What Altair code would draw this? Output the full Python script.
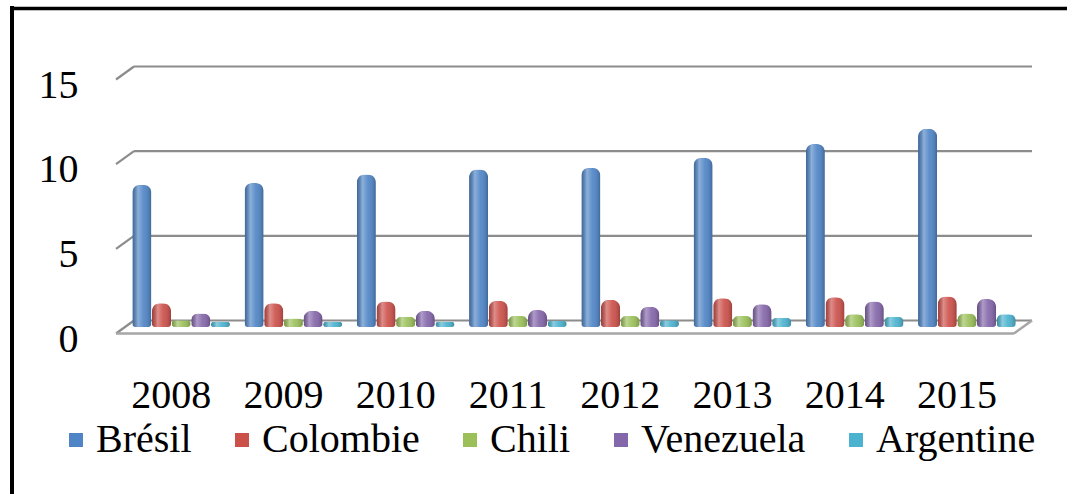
import altair as alt
import pandas as pd

# Values per year, by country
years = ["2008", "2009", "2010", "2011", "2012", "2013", "2014", "2015"]
countries = ["Brésil", "Colombie", "Chili", "Venezuela", "Argentine"]
bresil = [8.4, 8.5, 9.0, 9.3, 9.4, 10.0, 10.8, 11.7]
colombie = [1.4, 1.4, 1.5, 1.55, 1.6, 1.7, 1.75, 1.8]
chili = [0.4, 0.5, 0.6, 0.65, 0.65, 0.65, 0.75, 0.8]
venezuela = [0.8, 0.95, 0.95, 1.0, 1.2, 1.35, 1.5, 1.65]
argentine = [0.3, 0.3, 0.3, 0.35, 0.4, 0.55, 0.6, 0.75]
colors = ["#4F85C6", "#CC504A", "#9BC05A", "#8466AA", "#4BB2CF"]
grid_values = [0, 5, 10, 15]

series = [bresil, colombie, chili, venezuela, argentine]
rows = []
for country, vals in zip(countries, series):
    for year, v in zip(years, vals):
        rows.append({"annee": year, "pays": country, "valeur": v})
df = pd.DataFrame(rows)
grid = pd.DataFrame({"v": grid_values})

W, H = 898, 254
DX, DY = 9, 6.5          # depth shift of the back wall / front edge
FONT = "Liberation Serif"
GRID = "#8c8c8c"

yscale = alt.Scale(domain=[0, 15], nice=False, zero=True)
xscale = alt.Scale(domain=years, paddingInner=0.13, paddingOuter=0.065)

yaxis = alt.Axis(values=grid_values, labelFont=FONT, labelFontSize=40, labelColor="black",
                 labelPadding=47, labelOffset=12, labelBaseline="middle",
                 ticks=False, domain=False, grid=False, title=None)
xaxis = alt.Axis(labelFont=FONT, labelFontSize=40, labelColor="black", labelAngle=0,
                 labelPadding=68, labelBaseline="middle", labelOffset=-10,
                 ticks=False, domain=False, grid=False, title=None)

# back wall gridlines (this layer carries the value axis)
back = alt.Chart(grid).mark_rule(color=GRID, strokeWidth=2.2, yOffset=-DY).encode(
    y=alt.Y("v:Q", scale=yscale, axis=yaxis, title=None),
    x=alt.value(DX), x2=alt.value(W + DX),
)
# slanted stubs on the left side wall
stubs = alt.Chart(grid).mark_rule(color=GRID, strokeWidth=2.2, yOffset=DY, y2Offset=-DY).encode(
    y=alt.Y("v:Q", scale=yscale, title=None), y2=alt.Y2("v:Q"),
    x=alt.value(-DX), x2=alt.value(DX),
)
floor_front = alt.Chart(grid).transform_filter("datum.v == 0").mark_rule(
    color="#a6a6a6", strokeWidth=2.5, yOffset=DY
).encode(
    y=alt.Y("v:Q", scale=yscale, title=None),
    x=alt.value(-DX), x2=alt.value(W - DX),
)
floor_right = alt.Chart(grid).transform_filter("datum.v == 0").mark_rule(
    color="#a6a6a6", strokeWidth=2.5, yOffset=DY, y2Offset=-DY
).encode(
    y=alt.Y("v:Q", scale=yscale, title=None), y2=alt.Y2("v:Q"),
    x=alt.value(W - DX), x2=alt.value(W + DX),
)

xoff = alt.XOffset("pays:N", sort=countries, scale=alt.Scale(paddingInner=0.03, paddingOuter=0))

bars = alt.Chart(df).mark_bar(cornerRadiusTopLeft=8, cornerRadiusTopRight=8,
                              cornerRadiusBottomLeft=3, cornerRadiusBottomRight=3).encode(
    x=alt.X("annee:N", scale=xscale, sort=years, axis=xaxis, title=None),
    xOffset=xoff,
    y=alt.Y("valeur:Q", scale=yscale, title=None),
    color=alt.Color(
        "pays:N", sort=countries, scale=alt.Scale(domain=countries, range=colors),
        legend=alt.Legend(
            title=None, orient="none", legendX=-81, legendY=347, direction="horizontal",
            symbolType="square", symbolSize=196, symbolStrokeWidth=0, symbolOffset=12,
            labelFont=FONT, labelFontSize=40, labelColor="black", labelOffset=0,
            labelLimit=0, columnPadding=18,
        ),
    ),
)

# cylinder shading laid over every bar
shade = alt.Gradient(
    gradient="linear", x1=0, x2=1, y1=0, y2=0,
    stops=[
        alt.GradientStop(color="rgba(0,0,0,0.22)", offset=0),
        alt.GradientStop(color="rgba(255,255,255,0.35)", offset=0.3),
        alt.GradientStop(color="rgba(255,255,255,0.08)", offset=0.6),
        alt.GradientStop(color="rgba(0,0,0,0.22)", offset=1),
    ],
)
gloss = alt.Chart(df).mark_bar(color=shade, cornerRadiusTopLeft=8, cornerRadiusTopRight=8,
                               cornerRadiusBottomLeft=3, cornerRadiusBottomRight=3).encode(
    x=alt.X("annee:N", scale=xscale, sort=years, title=None),
    xOffset=xoff,
    y=alt.Y("valeur:Q", scale=yscale, title=None),
)

# page frame (left and top edges)
frame_left = alt.Chart(grid).transform_filter("datum.v == 0").mark_rule(color="black", strokeWidth=4).encode(
    x=alt.value(-113), y=alt.value(-67), y2=alt.value(430),
)
frame_top = alt.Chart(grid).transform_filter("datum.v == 0").mark_rule(color="black", strokeWidth=3.5).encode(
    x=alt.value(-115), x2=alt.value(942), y=alt.value(-64.5),
)

chart = alt.layer(
    back, stubs, floor_front, floor_right, bars, gloss, frame_left, frame_top
).properties(
    width=W, height=H,
    autosize=alt.AutoSizeParams(type="none"),
    padding={"left": 125, "top": 73, "right": 1067 - 125 - W, "bottom": 494 - 73 - H},
    background="white",
).configure(font=FONT).configure_view(stroke=None).configure_legend(
    labelFont=FONT, labelFontSize=40, labelColor="black"
).configure_axis(labelFont=FONT)

chart.save("out.html", embed_options={"renderer": "svg", "actions": False})
